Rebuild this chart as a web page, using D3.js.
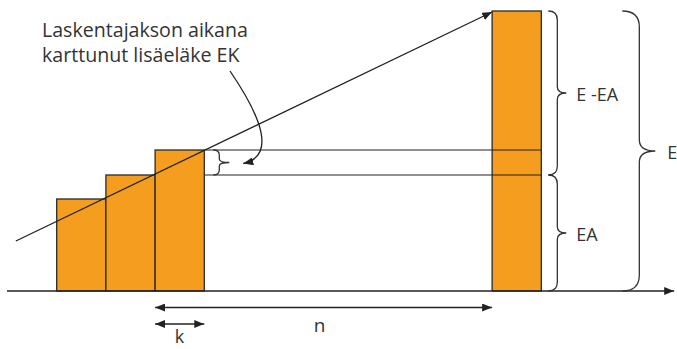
<!DOCTYPE html>
<html><head><meta charset="utf-8">
<script src="https://cdn.jsdelivr.net/npm/d3@7"></script>
<style>
html,body{margin:0;padding:0;background:#fff;}
svg{display:block;}
text{font-family:"Open Sans",sans-serif;fill:#333;}
</style></head>
<body>
<script>
// ---- data ----
const periods = ["1", "2", "3", "n"];          // bar categories
const barStart = [0, 1, 2, 8.85];              // period start (in k units)
const barValue = [92, 116, 141, 280];          // accrued pension level
const trendStart = { t: -0.83, v: 50 };        // rising line start
const trendEnd = { t: 8.85, v: 279 };          // rising line end (arrow)
const levelEA = 116;                           // EA level
const levelEK = 141;                           // level after period
const axisRange = [-1.01, 12.55];
const labels = { note: ["Laskentajakson aikana", "karttunut lisäeläke EK"], eea: "E -EA", ea: "EA", e: "E", n: "n", k: "k" };

const W = 677, H = 349;
const x = d3.scaleLinear().domain([0, 1]).range([56.7, 105.9]);
const y = d3.scaleLinear().domain([0, 280]).range([291, 11]);

const svg = d3.select("body").append("svg").attr("width", W).attr("height", H);
const defs = svg.append("defs");
defs.append("marker").attr("id", "ah").attr("viewBox", "0 0 10 8").attr("refX", 10).attr("refY", 4)
  .attr("markerWidth", 10).attr("markerHeight", 8).attr("markerUnits", "userSpaceOnUse").attr("orient", "auto-start-reverse")
  .append("path").attr("d", "M0,0 L10,4 L0,8 Z").attr("fill", "#222");

const ink = "#222";
// bars
svg.selectAll("rect.bar").data(periods).join("rect").attr("class", "bar")
  .attr("x", (d, i) => x(barStart[i])).attr("width", (d, i) => x(barStart[i] + 1) - x(barStart[i]))
  .attr("y", (d, i) => y(barValue[i])).attr("height", (d, i) => y(0) - y(barValue[i]))
  .attr("fill", "#f59d1e").attr("stroke", "#2a2a2a").attr("stroke-width", 1.3);

// horizontal guide lines
const bEnd = barStart[2] + 1, nEnd = barStart[3] + 1;
[levelEK, levelEA].forEach(v => {
  svg.append("line").attr("x1", x(bEnd)).attr("x2", x(nEnd)).attr("y1", y(v)).attr("y2", y(v))
    .attr("stroke", ink).attr("stroke-width", 1.2);
});

// x axis
svg.append("line").attr("x1", x(axisRange[0])).attr("x2", x(axisRange[1])).attr("y1", y(0)).attr("y2", y(0))
  .attr("stroke", ink).attr("stroke-width", 1.3).attr("marker-end", "url(#ah)");

// trend line
svg.append("line").attr("x1", x(trendStart.t)).attr("y1", y(trendStart.v)).attr("x2", x(trendEnd.t)).attr("y2", y(trendEnd.v))
  .attr("stroke", ink).attr("stroke-width", 1.3).attr("marker-end", "url(#ah)");

// braces
function brace(xL, xS, xT, y0, y1, r) {
  const ym = (y0 + y1) / 2;
  const p = d3.path();
  p.moveTo(xL, y0);
  p.quadraticCurveTo(xS, y0, xS, y0 + r);
  p.lineTo(xS, ym - r * 0.7);
  p.quadraticCurveTo(xS, ym, xT, ym);
  p.quadraticCurveTo(xS, ym, xS, ym + r * 0.7);
  p.lineTo(xS, y1 - r);
  p.quadraticCurveTo(xS, y1, xL, y1);
  svg.append("path").attr("d", p.toString()).attr("fill", "none").attr("stroke", "#333").attr("stroke-width", 1.3);
}
const xr = x(nEnd);
brace(xr + 7, xr + 16, xr + 25, y(280), y(levelEA), 9);
brace(xr + 7, xr + 16, xr + 25, y(levelEA), y(0), 9);
brace(xr + 81, xr + 98, xr + 114, y(280), y(0), 16);
const x3 = x(bEnd);
brace(x3 + 9, x3 + 15, x3 + 25, y(levelEK), y(levelEA), 5);

// brace labels
svg.append("text").attr("x", xr + 35).attr("y", (y(280) + y(levelEA)) / 2 + 8).attr("font-size", 18).text(labels.eea);
svg.append("text").attr("x", xr + 35).attr("y", (y(levelEA) + y(0)) / 2 + 8).attr("font-size", 18).text(labels.ea);
svg.append("text").attr("x", xr + 126).attr("y", y(140) + 8).attr("font-size", 18).text(labels.e);

// note text
const note = svg.append("text").attr("x", 42).attr("y", 37).attr("font-size", 19.6);
note.selectAll("tspan").data(labels.note).join("tspan").attr("x", 42).attr("dy", (d, i) => i ? 25 : 0).text(d => d);

// curved pointer arrow
svg.append("path").attr("d", `M230,71 C262,118 276,156 ${x3 + 39},${y((levelEK + levelEA) / 2) + 1}`)
  .attr("fill", "none").attr("stroke", ink).attr("stroke-width", 1.3).attr("marker-end", "url(#ah)");

// n and k arrows
svg.append("line").attr("x1", x(barStart[2])).attr("x2", x(barStart[3])).attr("y1", 307.5).attr("y2", 307.5)
  .attr("stroke", ink).attr("stroke-width", 1.3).attr("marker-start", "url(#ah)").attr("marker-end", "url(#ah)");
svg.append("line").attr("x1", x(barStart[2])).attr("x2", x(bEnd)).attr("y1", 324).attr("y2", 324)
  .attr("stroke", ink).attr("stroke-width", 1.3).attr("marker-start", "url(#ah)").attr("marker-end", "url(#ah)");
svg.append("text").attr("x", 319.5).attr("y", 332).attr("font-size", 19).attr("text-anchor", "middle").text(labels.n);
svg.append("text").attr("x", 179.5).attr("y", 343).attr("font-size", 18).attr("text-anchor", "middle").text(labels.k);
</script>
</body></html>
